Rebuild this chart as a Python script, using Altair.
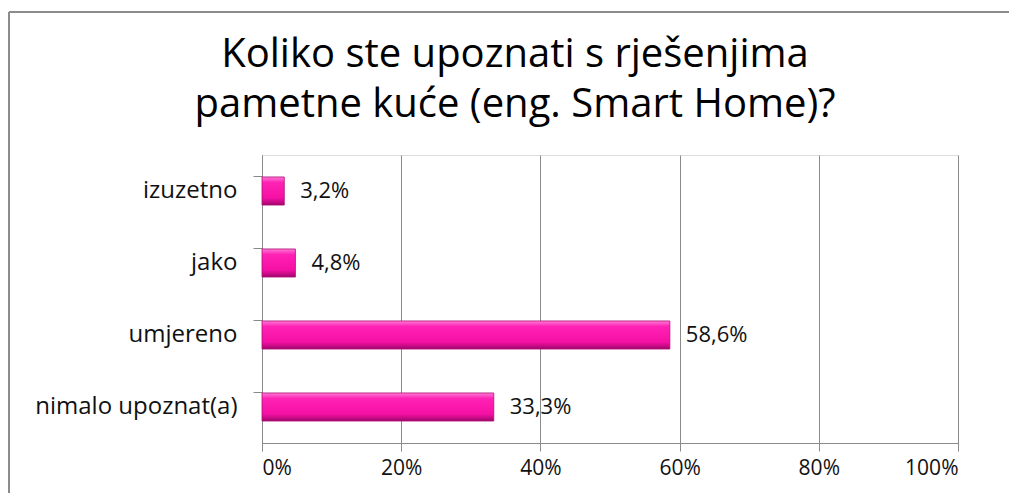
import altair as alt
import pandas as pd

categories = ["izuzetno", "jako", "umjereno", "nimalo upoznat(a)"]
values = [3.2, 4.8, 58.6, 33.3]
labels = ["3,2%", "4,8%", "58,6%", "33,3%"]
x_ticks = [0, 20, 40, 60, 80, 100]
title_lines = ["Koliko ste upoznati s rješenjima", "pametne kuće (eng. Smart Home)?"]

df = pd.DataFrame({"cat": categories, "val": values, "lab": labels})

FONT = "Open Sans"
W, H = 696, 288
PAD_L, PAD_T = 262, 155

x_enc = alt.X(
    "val:Q",
    scale=alt.Scale(domain=[0, 100], nice=False),
    axis=alt.Axis(
        values=x_ticks,
        labelExpr="datum.value + '%'",
        title=None,
        grid=True,
        gridColor="#8a8a8a",
        gridWidth=1,
        domainColor="#8a8a8a",
        tickColor="#8a8a8a",
        tickSize=8,
        labelPadding=6,
        labelFontSize=21,
        labelFont=FONT,
        labelColor="#111111",
    ),
)
y_enc = alt.Y(
    "cat:N",
    sort=categories,
    scale=alt.Scale(paddingInner=0.61, paddingOuter=0.305),
    axis=alt.Axis(
        title=None,
        bandPosition=0,
        domainColor="#8a8a8a",
        tickColor="#8a8a8a",
        tickSize=9,
        labelPadding=16,
        labelFontSize=24,
        labelFont=FONT,
        labelColor="#111111",
        labelLimit=400,
    ),
)

gradient = alt.Gradient(
    gradient="linear",
    stops=[
        alt.GradientStop(color="#ff7ad6", offset=0),
        alt.GradientStop(color="#ff22b4", offset=0.2),
        alt.GradientStop(color="#f510a4", offset=0.75),
        alt.GradientStop(color="#a0066a", offset=1),
    ],
    x1=0, x2=0, y1=0, y2=1,
)

bars = alt.Chart(df).mark_bar(fill=gradient, stroke="#b00c76", strokeWidth=0.8).encode(
    x=x_enc, y=y_enc
)

text = alt.Chart(df).mark_text(
    align="left", baseline="middle", dx=16, fontSize=22, font=FONT, color="#111111"
).encode(x="val:Q", y=alt.Y("cat:N", sort=categories), text="lab:N")

title = alt.Chart(pd.DataFrame({"k": [0]})).mark_text(
    text=title_lines,
    align="center",
    baseline="alphabetic",
    fontSize=40,
    lineHeight=50,
    font=FONT,
    color="#000000",
    clip=False,
).encode(x=alt.value(515 - PAD_L), y=alt.value(67 - PAD_T))

border_top = alt.Chart(df).mark_rule(color="#8c8c8c", strokeWidth=2, clip=False).encode(
    x=alt.value(9 - PAD_L), x2=alt.value(1009 - PAD_L), y=alt.value(12 - PAD_T)
)
border_left = alt.Chart(df).mark_rule(color="#8c8c8c", strokeWidth=2, clip=False).encode(
    x=alt.value(9 - PAD_L), y=alt.value(12 - PAD_T), y2=alt.value(493 - PAD_T)
)

chart = (
    alt.layer(bars, text, title, border_top, border_left)
    .properties(
        width=W,
        height=H,
        autosize=alt.AutoSizeParams(type="none"),
        padding={"left": PAD_L, "top": PAD_T, "right": 1009 - PAD_L - W, "bottom": 493 - PAD_T - H},
    )
    .configure_view(stroke=None)
    .configure(background="white")
)

chart.save("out.html", embed_options={"renderer": "svg", "actions": False})
